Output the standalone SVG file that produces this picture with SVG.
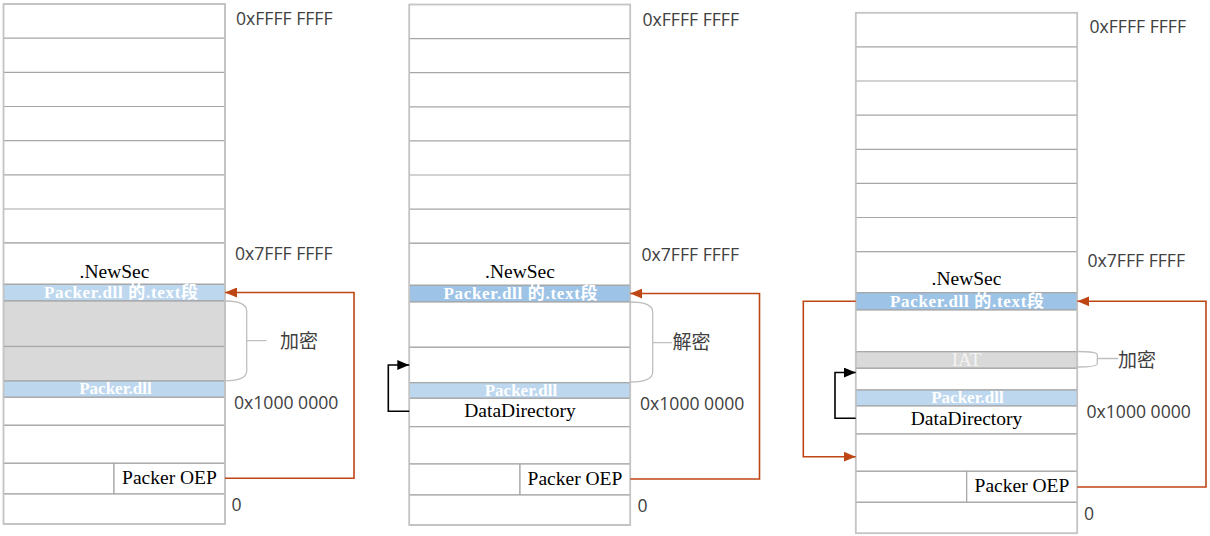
<svg xmlns="http://www.w3.org/2000/svg" width="1210" height="536" viewBox="0 0 1210 536">
<defs>
<style>
.cell{fill:#ffffff;stroke:#a6a6a6;stroke-width:1.2}
.frame{fill:none;stroke:#c4c4c4;stroke-width:1.6}
.line{stroke:#a6a6a6;stroke-width:1.2;fill:none}
.bandA{fill:#bdd7ee;stroke:#a6a6a6;stroke-width:1.2}
.bandB{fill:#9dc3e6;stroke:#a6a6a6;stroke-width:1.2}
.gray{fill:#d9d9d9;stroke:#a6a6a6;stroke-width:1.2}
.hex{font-family:"Open Sans","Noto Sans",sans-serif;font-size:17.6px;fill:#404040}
.cjk{font-family:"Noto Sans CJK SC","Noto Sans",sans-serif;font-size:19px;fill:#404040}
.ser{font-family:"Liberation Serif","Noto Sans CJK SC",serif;font-size:19.5px;fill:#000000;text-anchor:middle}
.band{font-family:"Liberation Serif","Noto Sans CJK SC",serif;font-size:17px;font-weight:bold;fill:#ffffff;text-anchor:middle}
.iat{font-family:"Liberation Serif",serif;font-size:19px;fill:#f4f4f4;text-anchor:middle}
.brace{fill:none;stroke:#bfbfbf;stroke-width:1.3}
.red{fill:none;stroke:#be4614;stroke-width:1.6}
.blk{fill:none;stroke:#000000;stroke-width:1.6}
</style>
<marker id="arrRed" viewBox="0 0 12 10" refX="12" refY="5" markerWidth="12" markerHeight="10" markerUnits="userSpaceOnUse" orient="auto">
<path d="M0,0 L12,5 L0,10 z" fill="#be4614"/>
</marker>
<marker id="arrBlk" viewBox="0 0 12 10" refX="12" refY="5" markerWidth="12" markerHeight="10" markerUnits="userSpaceOnUse" orient="auto">
<path d="M0,0 L12,5 L0,10 z" fill="#000000"/>
</marker>
</defs>
<rect width="1210" height="536" fill="#ffffff"/>

<!-- Column 1 -->
<g id="col1">
<g id="c1-rows">
<rect class="cell" x="3.5" y="4" width="221.5" height="239"/>
<path class="line" d="M3.5,38.2H225M3.5,72.3H225M3.5,106.5H225M3.5,140.7H225M3.5,174.9H225M3.5,209H225"/>
</g>
<g id="c1-newsec"><rect class="cell" x="3.5" y="243" width="221.5" height="41.3"/><text class="ser" x="114.5" y="277.5">.NewSec</text></g>
<g id="c1-text"><rect class="bandA" x="3.5" y="284.3" width="221.5" height="16.7"/><text class="band" x="121" y="298.3" textLength="154" lengthAdjust="spacing">Packer.dll 的.text段</text></g>
<g id="c1-enc"><rect class="gray" x="3.5" y="301" width="221.5" height="45.5"/><rect class="gray" x="3.5" y="346.5" width="221.5" height="34.5"/></g>
<g id="c1-dll"><rect class="bandA" x="3.5" y="381" width="221.5" height="16.3"/><text class="band" x="115.5" y="394">Packer.dll</text></g>
<g id="c1-r1"><rect class="cell" x="3.5" y="397.3" width="221.5" height="28"/></g>
<g id="c1-r2"><rect class="cell" x="3.5" y="425.3" width="221.5" height="38"/></g>
<g id="c1-oep"><rect class="cell" x="3.5" y="463.3" width="110.5" height="30.7"/><rect class="cell" x="114" y="463.3" width="111" height="30.7"/><text class="ser" x="169.5" y="484">Packer OEP</text></g>
<g id="c1-r3"><rect class="cell" x="3.5" y="494" width="221.5" height="30"/></g>
<rect class="frame" x="3.5" y="4" width="221.5" height="520"/>
<g id="c1-labels">
<text class="hex" x="236" y="25">0xFFFF FFFF</text>
<text class="hex" x="235" y="260">0x7FFF FFFF</text>
<text class="hex" x="234" y="409">0x1000 0000</text>
<text class="hex" x="231.5" y="510.5">0</text>
</g>
<g id="c1-brace">
<path class="brace" d="M225,301 C239,301 246.7,304 246.7,311 L246.7,371 C246.7,378 239,380.7 225,380.7 M246.7,340.7 H266.5"/>
<text class="cjk" x="280" y="348">加密</text>
</g>
</g>

<!-- Column 2 -->
<g id="col2">
<g id="c2-rows">
<rect class="cell" x="409.3" y="4.5" width="221" height="238.8"/>
<path class="line" d="M409.3,38.6H630.3M409.3,72.7H630.3M409.3,106.8H630.3M409.3,140.9H630.3M409.3,175H630.3M409.3,209.1H630.3"/>
</g>
<g id="c2-newsec"><rect class="cell" x="409.3" y="243.3" width="221" height="42"/><text class="ser" x="520" y="278.3">.NewSec</text></g>
<g id="c2-text"><rect class="bandB" x="409.3" y="285.3" width="221" height="16.7"/><text class="band" x="520.5" y="299.3" textLength="154" lengthAdjust="spacing">Packer.dll 的.text段</text></g>
<g id="c2-dec"><rect class="cell" x="409.3" y="302" width="221" height="45.3"/><rect class="cell" x="409.3" y="347.3" width="221" height="35.4"/></g>
<g id="c2-dll"><rect class="bandA" x="409.3" y="382.7" width="221" height="15.6"/><text class="band" x="521" y="395.7">Packer.dll</text></g>
<g id="c2-dd"><rect class="cell" x="409.3" y="398.3" width="221" height="28.4"/><text class="ser" x="520" y="416.5">DataDirectory</text></g>
<g id="c2-r2"><rect class="cell" x="409.3" y="426.7" width="221" height="37.3"/></g>
<g id="c2-oep"><rect class="cell" x="409.3" y="464" width="110.7" height="31"/><rect class="cell" x="520" y="464" width="110.3" height="31"/><text class="ser" x="575" y="485">Packer OEP</text></g>
<g id="c2-r3"><rect class="cell" x="409.3" y="495" width="221" height="30"/></g>
<rect class="frame" x="409.3" y="4.5" width="221" height="520.5"/>
<g id="c2-labels">
<text class="hex" x="642.5" y="25.5">0xFFFF FFFF</text>
<text class="hex" x="641.5" y="260.7">0x7FFF FFFF</text>
<text class="hex" x="640" y="410">0x1000 0000</text>
<text class="hex" x="637.5" y="511.5">0</text>
</g>
<g id="c2-brace">
<path class="brace" d="M630.3,302 C645,302 652.7,305 652.7,312 L652.7,372 C652.7,379 645,382 630.3,382 M652.7,342.7 H672"/>
<text class="cjk" x="672.5" y="349">解密</text>
</g>
</g>

<!-- Column 3 -->
<g id="col3">
<g id="c3-rows">
<rect class="cell" x="855.7" y="12.7" width="221.6" height="239"/>
<path class="line" d="M855.7,46.8H1077.3M855.7,81H1077.3M855.7,115.1H1077.3M855.7,149.3H1077.3M855.7,183.4H1077.3M855.7,217.5H1077.3"/>
</g>
<g id="c3-newsec"><rect class="cell" x="855.7" y="251.7" width="221.6" height="41"/><text class="ser" x="966.5" y="285">.NewSec</text></g>
<g id="c3-text"><rect class="bandB" x="855.7" y="292.7" width="221.6" height="17.3"/><text class="band" x="967" y="307.3" textLength="154" lengthAdjust="spacing">Packer.dll 的.text段</text></g>
<g id="c3-r0"><rect class="cell" x="855.7" y="310" width="221.6" height="41.7"/></g>
<g id="c3-iat"><rect class="gray" x="855.7" y="351.7" width="221.6" height="16.6"/><text class="iat" x="966.5" y="365.5">IAT</text></g>
<g id="c3-r1"><rect class="cell" x="855.7" y="368.3" width="221.6" height="21.7"/></g>
<g id="c3-dll"><rect class="bandA" x="855.7" y="390" width="221.6" height="16"/><text class="band" x="967.5" y="402.7">Packer.dll</text></g>
<g id="c3-dd"><rect class="cell" x="855.7" y="406" width="221.6" height="28"/><text class="ser" x="966.5" y="424.5">DataDirectory</text></g>
<g id="c3-r2"><rect class="cell" x="855.7" y="434" width="221.6" height="37.3"/></g>
<g id="c3-oep"><rect class="cell" x="855.7" y="471.3" width="111" height="31"/><rect class="cell" x="966.7" y="471.3" width="110.6" height="31"/><text class="ser" x="1022" y="492.3">Packer OEP</text></g>
<g id="c3-r3"><rect class="cell" x="855.7" y="502.3" width="221.6" height="31"/></g>
<rect class="frame" x="855.7" y="12.7" width="221.6" height="520.6"/>
<g id="c3-labels">
<text class="hex" x="1089.5" y="32.7">0xFFFF FFFF</text>
<text class="hex" x="1087.5" y="267.3">0x7FFF FFFF</text>
<text class="hex" x="1086.5" y="417.5">0x1000 0000</text>
<text class="hex" x="1084" y="519.5">0</text>
</g>
<g id="c3-brace">
<path class="brace" d="M1077.3,351.5 C1091,351.5 1097.3,352.5 1097.3,355 L1097.3,363.5 C1097.3,366 1091,367 1077.3,367 M1097.3,358.5 H1118"/>
<text class="cjk" x="1118" y="366.5">加密</text>
</g>
</g>

<!-- Connectors -->
<g id="connectors">
<path class="red" d="M225,478.3 H354 V292.5 H225" marker-end="url(#arrRed)"/>
<path class="red" d="M630.3,479 H759.5 V293.5 H630.3" marker-end="url(#arrRed)"/>
<path class="red" d="M1077.3,487 H1206 V301.3 H1077.3" marker-end="url(#arrRed)"/>
<path class="red" d="M855.7,301.3 H803.3 V456.7 H855.7" marker-end="url(#arrRed)"/>
<path class="blk" d="M409.3,411.3 H388.3 V365 H409.3" marker-end="url(#arrBlk)"/>
<path class="blk" d="M855.7,418.3 H835 V372.5 H855.7" marker-end="url(#arrBlk)"/>
</g>
</svg>
